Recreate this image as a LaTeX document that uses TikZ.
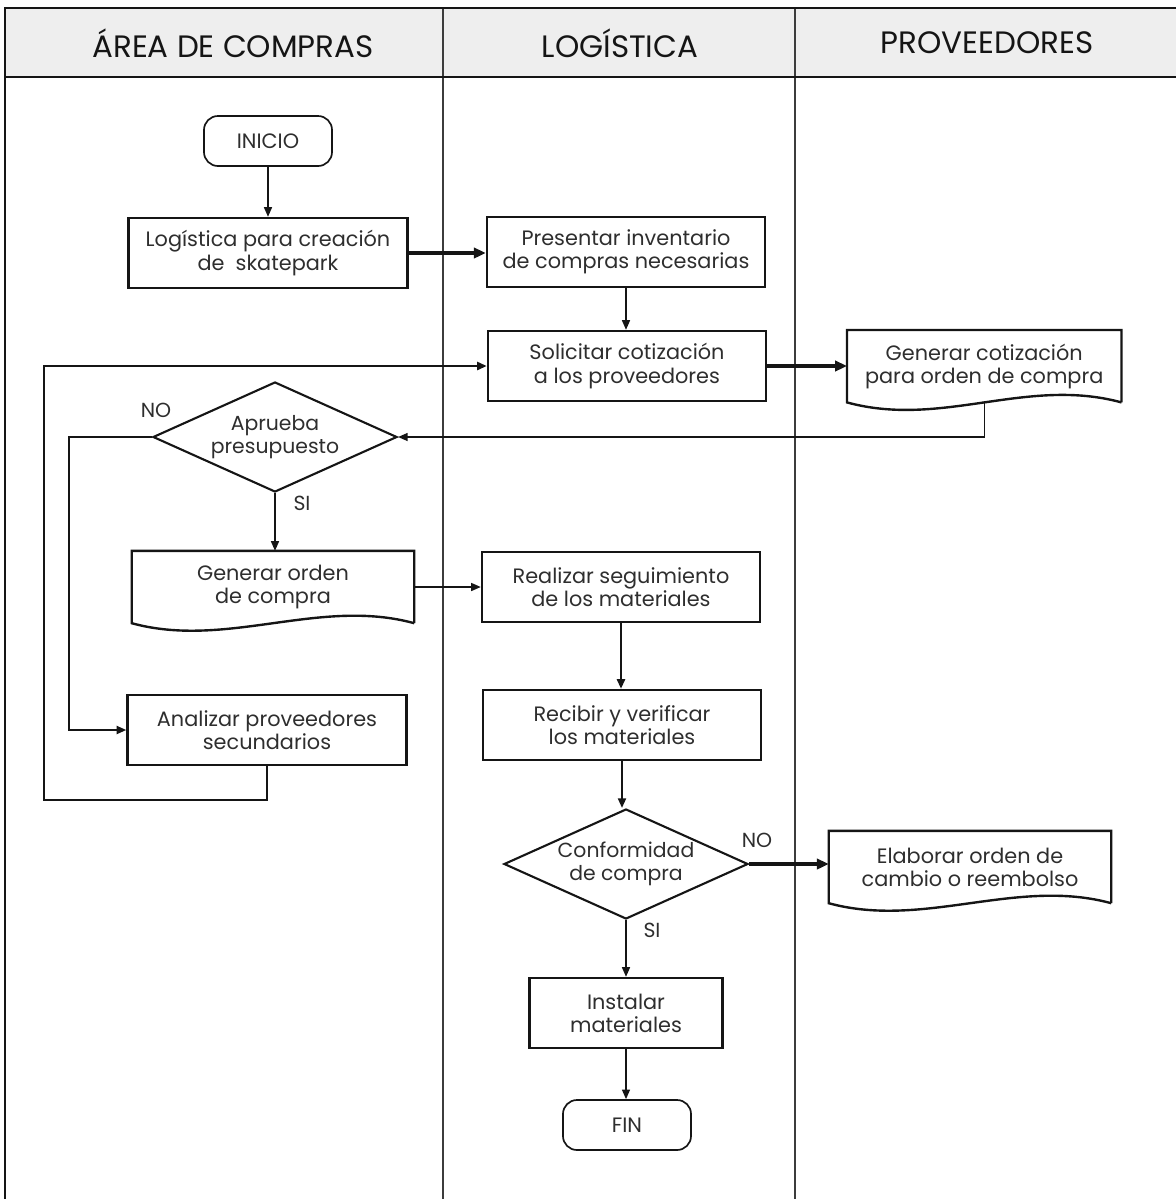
\documentclass[tikz,border=0pt]{standalone}
\usepackage{fontspec}
\setmainfont{Poppins}
\usepackage{tikz}
\usetikzlibrary{positioning,arrows.meta,shapes.geometric,calc}
\definecolor{ink}{HTML}{151515}
\definecolor{txt}{HTML}{2E2E2E}
\definecolor{headfill}{HTML}{EEEEEE}
\definecolor{lanegrey}{HTML}{3C3C3C}
\tikzset{
  proc/.style={rectangle, draw=ink, line width=1.7pt, align=center,
               font=\fontsize{14.8}{16.5}\selectfont, text=txt, inner sep=2pt,
               minimum width=#1, minimum height=17.5mm},
  proc/.default=69.5mm,
  term/.style={proc=32mm, rounded corners=3.5mm, minimum height=12.5mm, line width=1.2pt},
  doc/.style={proc=#1, draw=none},
  dec/.style={diamond, aspect=2.2, draw=ink, line width=1.5pt, align=center,
              font=\fontsize{14.5}{16}\selectfont, text=txt, inner sep=0pt,
              minimum width=61mm, minimum height=27.5mm},
  ar/.style={-{Triangle[length=2.4mm,width=2mm]}, line width=1pt, draw=ink},
  arb/.style={-{Triangle[length=3mm,width=2.6mm]}, line width=2.2pt, draw=ink},
  lbl/.style={font=\fontsize{14.5}{16}\selectfont, text=txt},
  lane/.style={font=\fontsize{22}{24}\selectfont, text=ink},
}

\begin{document}
\begin{tikzpicture}[x=0.025cm, y=-0.025cm]
  \useasboundingbox (0,0) rectangle (1176,1199);

  % swimlanes
  \fill[headfill] (5,8) rectangle (1176,77);
  \draw[lanegrey, line width=1.1pt] (443,8) -- (443,1199);
  \draw[lanegrey, line width=1.1pt] (795,8) -- (795,1199);
  \draw[ink, line width=1.8pt] (5,1199) -- (5,8) -- (1176,8);
  \draw[ink, line width=1.5pt] (5,77) -- (1176,77);
  \node[lane] (hcompras) at (233,43) {ÁREA DE COMPRAS};
  \node[lane] (hlogis) at (620,43) {LOGÍSTICA};
  \node[lane] (hprov) at (987,43) {PROVEEDORES};

  % nodes
  \node[term] (inicio) at (268,141) {INICIO};
  \node[proc=69.75mm] (logistica) at (268,253) {Logística para creación\\de\ \ skatepark};
  \node[proc] (presentar) at (626,252) {Presentar inventario\\de compras necesarias};
  \node[proc] (solicitar) at (627,366) {Solicitar cotización\\a los proveedores};
  \node[doc=68mm, anchor=north west] (gencot) at (847,330) {Generar cotización\\para orden de compra};
  \node[dec] (aprueba) at (275,437) {Aprueba\\presupuesto};
  \node[doc=70mm] (genorden) at (273,587) {Generar orden\\de compra};
  \node[proc] (realizar) at (621,587) {Realizar seguimiento\\de los materiales};
  \node[proc=69.75mm] (analizar) at (267,730) {Analizar proveedores\\secundarios};
  \node[proc] (recibir) at (622,725) {Recibir y verificar\\los materiales};
  \node[dec] (conform) at (626,864) {Conformidad\\de compra};
  \node[doc=70mm] (elaborar) at (970,867) {Elaborar orden de\\cambio o reembolso};
  \node[proc=48.25mm] (instalar) at (626,1013) {Instalar\\materiales};
  \node[term] (fin) at (627,1125) {FIN};

  % wavy bottoms of the document boxes
  \foreach \n in {gencot,genorden,elaborar}{
    \draw[ink, line width=1.7pt] (\n.south east) -- (\n.north east) -- (\n.north west) -- (\n.south west)
      .. controls +(95,26) and +(-95,-26) .. (\n.south east);
  }

  \node[lbl] (no1) at (156,410) {NO};
  \node[lbl] (si1) at (302,503) {SI};
  \node[lbl] (no2) at (757,840) {NO};
  \node[lbl] (si2) at (652,930) {SI};

  \coordinate (back) at (44,800);

  % connectors
  \draw[ar] (inicio.south) -- (inicio.south |- logistica.north);
  \draw[arb] (logistica.east) -- (logistica.east -| presentar.west);
  \draw[ar] (presentar.south) -- (presentar.south |- solicitar.north);
  \draw[arb] (solicitar.east) -- (solicitar.east -| gencot.west);
  \draw[ar] (gencot.south) |- (aprueba.east);
  \draw[ar, line width=1.4pt] (aprueba.west) -- ++(-83,0) |- (analizar.west);
  \draw[ar] (aprueba.south) -- (aprueba.south |- genorden.north);
  \draw[ar] (genorden.east) -- (genorden.east -| realizar.west);
  \draw[ar, line width=1.6pt] (realizar.south) -- (realizar.south |- recibir.north);
  \draw[ar, line width=1.6pt] (analizar.south) |- (back) |- (solicitar.west);
  \draw[ar, line width=1.4pt] (recibir.south) -- (recibir.south |- conform.north);
  \draw[arb] (conform.east) -- (conform.east -| elaborar.west);
  \draw[ar] (conform.south) -- (conform.south |- instalar.north);
  \draw[ar] (instalar.south) -- (instalar.south |- fin.north);
\end{tikzpicture}
\end{document}
